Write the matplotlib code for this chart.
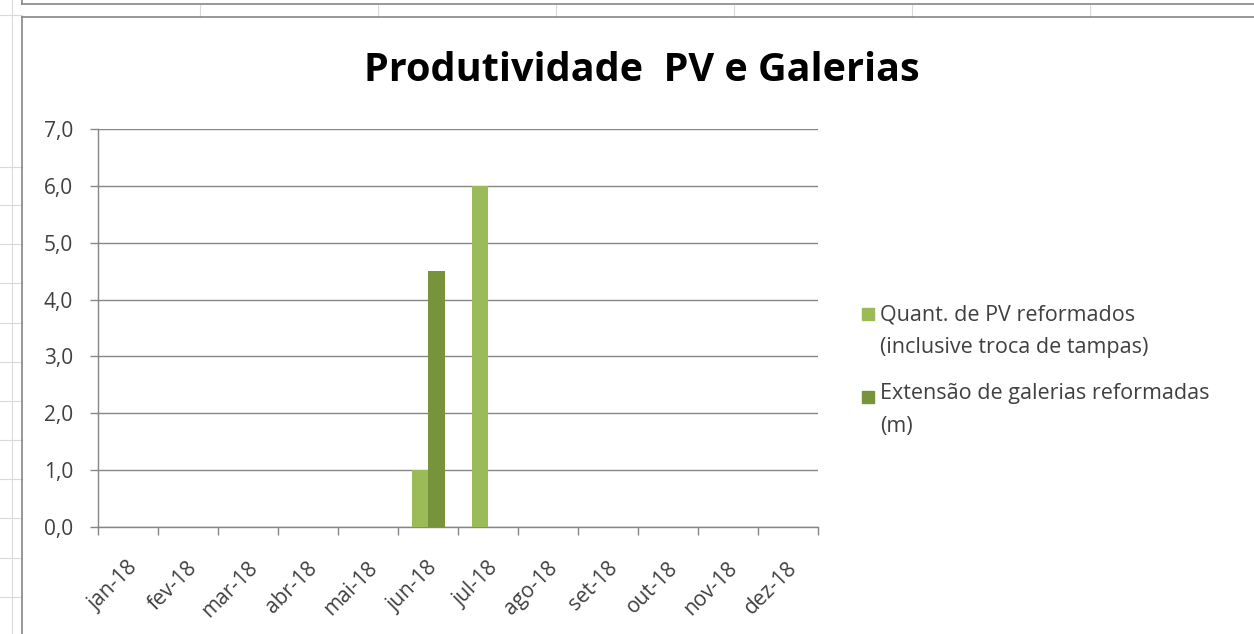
import matplotlib
matplotlib.use("Agg")
import matplotlib.pyplot as plt
import numpy as np
from matplotlib.lines import Line2D
from matplotlib.patches import Rectangle
from matplotlib.transforms import ScaledTranslation

# ---- data ----
months = ["jan-18", "fev-18", "mar-18", "abr-18", "mai-18", "jun-18",
          "jul-18", "ago-18", "set-18", "out-18", "nov-18", "dez-18"]
pv_reformados = [0, 0, 0, 0, 0, 1.0, 6.0, 0, 0, 0, 0, 0]
galerias_reformadas = [0, 0, 0, 0, 0, 4.5, 0, 0, 0, 0, 0, 0]
series_names = ["Quant. de PV reformados\n(inclusive troca de tampas)",
                "Extensão de galerias reformadas\n(m)"]
y_ticks = [0, 1, 2, 3, 4, 5, 6, 7]
title = "Produtividade  PV e Galerias"

# ---- style ----
W, H = 1254, 634
DPI = 100
FONT = "Open Sans"
c_light = "#9BBB59"
c_dark = "#77933C"
grid_c = "#868686"
txt_c = "#404040"
sheet_c = "#D9D9D9"

fig = plt.figure(figsize=(W / DPI, H / DPI), dpi=DPI)
fig.patch.set_facecolor("white")

def fx(px):
    return px / W

def fy(py):
    return 1 - py / H

# spreadsheet background lines (outside chart)
for xx in [200, 378, 556, 734, 912, 1090]:
    fig.add_artist(Line2D([fx(xx), fx(xx)], [fy(5), fy(17)], color=sheet_c, lw=0.8))
for yy in [167, 205, 244, 283, 323, 362, 401, 440, 479, 518, 558, 597]:
    fig.add_artist(Line2D([fx(0), fx(22)], [fy(yy), fy(yy)], color=sheet_c, lw=0.8))
fig.add_artist(Line2D([fx(12), fx(12)], [fy(0), fy(H)], color=sheet_c, lw=0.8))
fig.add_artist(Line2D([fx(0), fx(22)], [fy(15), fy(15)], color=sheet_c, lw=0.8))
# upper chart bottom border and this chart's border
fig.add_artist(Line2D([fx(22), fx(W)], [fy(4), fy(4)], color=grid_c, lw=1.2))
fig.add_artist(Line2D([fx(22), fx(22)], [fy(0), fy(4)], color=grid_c, lw=1.2))
fig.add_artist(Line2D([fx(22), fx(W)], [fy(17), fy(17)], color=grid_c, lw=1.2))
fig.add_artist(Line2D([fx(22), fx(22)], [fy(17), fy(H)], color=grid_c, lw=1.2))

# ---- axes ----
left, right, top, bottom = 98, 818, 129, 527
ax = fig.add_axes([fx(left), fy(bottom), fx(right - left), (bottom - top) / H])
ax.set_facecolor("none")

x = np.arange(len(months))
bw = 0.275
ax.bar(x - bw / 2, pv_reformados, bw, color=c_light, zorder=3)
ax.bar(x + bw / 2, galerias_reformadas, bw, color=c_dark, zorder=3)

ax.set_xlim(-0.5, len(months) - 0.5)
ax.set_ylim(0, 7)
ax.set_yticks(y_ticks)
ax.set_yticklabels([f"{v:.1f}".replace(".", ",") for v in y_ticks],
                   fontsize=15, color=txt_c, family=FONT)
ax.yaxis.grid(True, color=grid_c, lw=1.0, zorder=0)
ax.set_axisbelow(True)

ax.set_xticks(np.arange(-0.5, len(months), 1))
ax.set_xticklabels([])
ax.set_xticks(x, minor=True)
ax.set_xticklabels(months, minor=True, rotation=45, ha="right", va="top",
                   rotation_mode="anchor", fontsize=15, color=txt_c, family=FONT)
ax.tick_params(axis="x", which="minor", length=0, pad=22)
ax.tick_params(axis="x", which="major", length=6, width=1.0, color=grid_c, direction="out")
ax.tick_params(axis="y", length=6, width=1.0, color=grid_c, direction="out", pad=12)
shift = ScaledTranslation(-1 / DPI, 0, fig.dpi_scale_trans)
for lab in ax.get_xticklabels(minor=True):
    lab.set_transform(lab.get_transform() + shift)

for s in ["top", "right"]:
    ax.spines[s].set_visible(False)
for s in ["left", "bottom"]:
    ax.spines[s].set_color(grid_c)
    ax.spines[s].set_linewidth(1.0)

# ---- title ----
fig.text(fx(642), fy(81), title, ha="center", va="baseline",
         fontsize=28.5, fontweight="bold", family=FONT, color="black")

# ---- legend (manual) ----
leg_items = [(series_names[0], c_light, 320, 308), (series_names[1], c_dark, 399, 391)]
for name, col, base, sq_top in leg_items:
    fig.add_artist(Rectangle((fx(862), fy(sq_top + 12)), fx(12), 12 / H,
                             color=col, transform=fig.transFigure))
    for i, line in enumerate(name.split("\n")):
        fig.text(fx(880), fy(base + 33 * i), line, ha="left", va="baseline",
                 fontsize=15.5, color=txt_c, family=FONT)

fig.savefig("out.png", dpi=DPI)
